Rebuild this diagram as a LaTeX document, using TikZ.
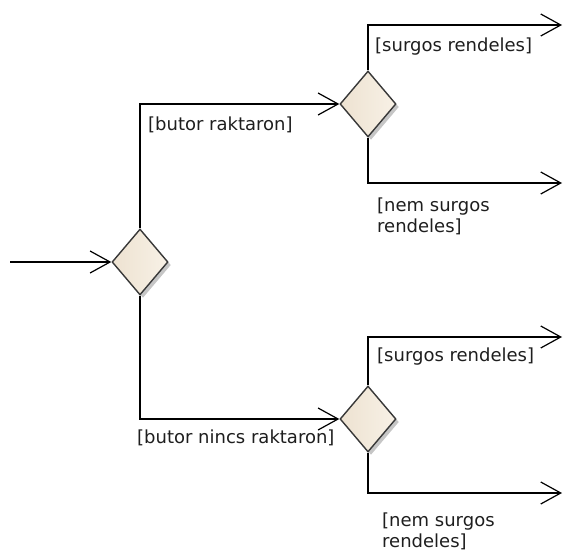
\documentclass[tikz,border=0pt]{standalone}
\usepackage{fontspec}
\setmainfont{DejaVu Sans}
\usetikzlibrary{shapes.geometric,arrows.meta,shadows}
\definecolor{decfill}{HTML}{F8F1E6}
\definecolor{decdark}{HTML}{EDE2D1}
\definecolor{labcol}{HTML}{1E1E1E}
\tikzset{
  decision/.style={diamond,draw=black!78,line width=1.4pt,inner sep=0pt,
    minimum width=56pt,minimum height=66pt,left color=decdark,right color=decfill,
    drop shadow={shadow xshift=3pt,shadow yshift=-3pt,opacity=.45}},
  flow/.style={line width=1.3pt,-{Straight Barb[length=20pt,width=22pt,line width=1.2pt]}},
  guard/.style={anchor=west,inner sep=0pt,text=labcol,font=\fontsize{18}{21}\selectfont,align=left}
}
\begin{document}
\begin{tikzpicture}[x=1pt,y=-1pt]
\useasboundingbox (0,0) rectangle (563,551);
% decision nodes
\node[decision] (dmain) at (140,262) {};
\node[decision] (dup) at (368,104) {};
\node[decision] (ddown) at (368,419) {};
% free ends
\coordinate (start) at (10,262);
\coordinate (e1) at (562,25);
\coordinate (e2) at (562,183);
\coordinate (e3) at (562,337);
\coordinate (e4) at (562,493);
\draw[flow] (start) -- (dmain.west);
\draw[flow] (dmain.north) |- (dup.west);
\draw[flow] (dmain.south) |- (ddown.west);
\draw[flow] (dup.north) |- (e1);
\draw[flow] (dup.south) |- (e2);
\draw[flow] (ddown.north) |- (e3);
\draw[flow] (ddown.south) |- (e4);
% guards
\node[guard] (g1) at (148,125) {[butor raktaron]};
\node[guard] (g2) at (137,438) {[butor nincs raktaron]};
\node[guard] (g3) at (375,47) {[surgos rendeles]};
\node[guard] (g4) at (377,216) {[nem surgos\\rendeles]};
\node[guard] (g5) at (377,357) {[surgos rendeles]};
\node[guard] (g6) at (382,531) {[nem surgos\\rendeles]};
\end{tikzpicture}
\end{document}
